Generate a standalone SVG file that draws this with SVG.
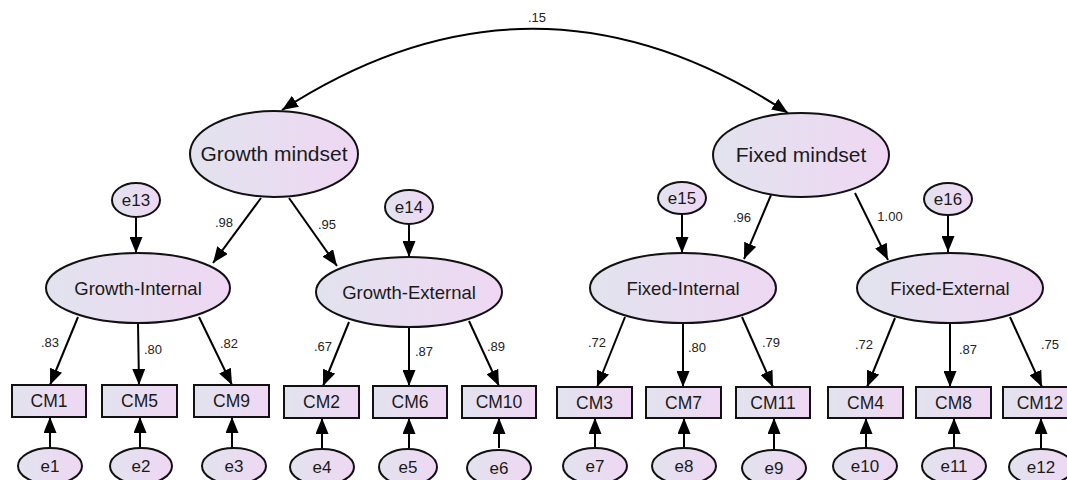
<svg xmlns="http://www.w3.org/2000/svg" width="1067" height="480" viewBox="0 0 1067 480">
<defs>
<linearGradient id="g" x1="0" y1="0" x2="1" y2="0">
<stop offset="0" stop-color="#e2e3ee"/>
<stop offset="1" stop-color="#efd7f3"/>
</linearGradient>
<marker id="ah" viewBox="0 0 16 13" refX="16" refY="6.5" markerWidth="16" markerHeight="13" markerUnits="userSpaceOnUse" orient="auto-start-reverse">
<path d="M0,0 L16,6.5 L0,13 z" fill="#000"/>
</marker>
<style>
.n{fill:url(#g);stroke:#111;stroke-width:2}
.t{font-family:"Liberation Sans",Arial,sans-serif;fill:#1a1a1a;text-anchor:middle}
.big{font-size:21px}
.mid{font-size:18.5px}
.cm{font-size:17.5px}
.e{font-size:17px}
.lb{font-family:"Liberation Sans",Arial,sans-serif;fill:#222;font-size:13px;text-anchor:middle}
.c{stroke:#000;stroke-width:2;fill:none;marker-end:url(#ah)}
</style>
</defs>
<rect width="1067" height="480" fill="#fff"/>

<g id="connectors">
<path class="c" d="M282,110 Q535,-54 788,113" marker-start="url(#ah)"/>
<line class="c" x1="261" y1="198" x2="213" y2="263"/>
<line class="c" x1="289" y1="198" x2="337" y2="266"/>
<line class="c" x1="771" y1="195" x2="744" y2="259"/>
<line class="c" x1="855" y1="193" x2="888" y2="260"/>
<line class="c" x1="136" y1="217" x2="136" y2="253"/>
<line class="c" x1="409" y1="224" x2="409" y2="257"/>
<line class="c" x1="682" y1="214" x2="682" y2="253"/>
<line class="c" x1="948" y1="215" x2="948" y2="252"/>
<line class="c" x1="78" y1="317" x2="50" y2="385"/>
<line class="c" x1="138" y1="323" x2="139" y2="385"/>
<line class="c" x1="199" y1="317" x2="232" y2="385"/>
<line class="c" x1="349" y1="322" x2="323" y2="386"/>
<line class="c" x1="409" y1="327" x2="409" y2="386"/>
<line class="c" x1="469" y1="321" x2="499" y2="386"/>
<line class="c" x1="625" y1="317" x2="597" y2="387"/>
<line class="c" x1="683" y1="323" x2="683" y2="387"/>
<line class="c" x1="742" y1="317" x2="773" y2="387"/>
<line class="c" x1="895" y1="318" x2="867" y2="387"/>
<line class="c" x1="950" y1="323" x2="950" y2="387"/>
<line class="c" x1="1010" y1="317" x2="1042" y2="387"/>
<line class="c" x1="50" y1="448" x2="50" y2="417"/>
<line class="c" x1="140" y1="448" x2="140" y2="417"/>
<line class="c" x1="232" y1="448" x2="232" y2="417"/>
<line class="c" x1="322" y1="448" x2="322" y2="418"/>
<line class="c" x1="409" y1="448" x2="409" y2="418"/>
<line class="c" x1="499" y1="448" x2="499" y2="418"/>
<line class="c" x1="595" y1="448" x2="595" y2="418"/>
<line class="c" x1="684" y1="448" x2="684" y2="418"/>
<line class="c" x1="774" y1="449" x2="774" y2="418"/>
<line class="c" x1="866" y1="448" x2="866" y2="418"/>
<line class="c" x1="954" y1="448" x2="954" y2="418"/>
<line class="c" x1="1041" y1="448" x2="1041" y2="418"/>
<text class="lb" x="537" y="22">.15</text>
<text class="lb" x="224" y="227">.98</text>
<text class="lb" x="327" y="229">.95</text>
<text class="lb" x="742" y="222">.96</text>
<text class="lb" x="890" y="221">1.00</text>
<text class="lb" x="50" y="347">.83</text>
<text class="lb" x="153" y="354">.80</text>
<text class="lb" x="229" y="348">.82</text>
<text class="lb" x="323" y="351">.67</text>
<text class="lb" x="424" y="356">.87</text>
<text class="lb" x="496" y="351">.89</text>
<text class="lb" x="597" y="347">.72</text>
<text class="lb" x="697" y="352">.80</text>
<text class="lb" x="771" y="347">.79</text>
<text class="lb" x="864" y="349">.72</text>
<text class="lb" x="968" y="354">.87</text>
<text class="lb" x="1050" y="349">.75</text>
</g>

<g id="growth-mindset"><ellipse class="n" cx="274" cy="154" rx="84" ry="43"/><text class="t big" x="274" y="161">Growth mindset</text></g>
<g id="fixed-mindset"><ellipse class="n" cx="801" cy="155" rx="88" ry="42"/><text class="t big" x="801" y="162">Fixed mindset</text></g>

<g id="growth-internal"><ellipse class="n" cx="138" cy="288" rx="92" ry="35"/><text class="t mid" x="138" y="294.5">Growth-Internal</text></g>
<g id="growth-external"><ellipse class="n" cx="409" cy="292" rx="93" ry="35"/><text class="t mid" x="409" y="298.5">Growth-External</text></g>
<g id="fixed-internal"><ellipse class="n" cx="683" cy="288" rx="93" ry="35"/><text class="t mid" x="683" y="294.5">Fixed-Internal</text></g>
<g id="fixed-external"><ellipse class="n" cx="950" cy="288" rx="93" ry="35"/><text class="t mid" x="950" y="294.5">Fixed-External</text></g>

<g id="e13"><ellipse class="n" cx="136" cy="200" rx="24" ry="17"/><text class="t e" x="136" y="206">e13</text></g>
<g id="e14"><ellipse class="n" cx="409" cy="207" rx="24" ry="17"/><text class="t e" x="409" y="213">e14</text></g>
<g id="e15"><ellipse class="n" cx="682" cy="198" rx="24" ry="16"/><text class="t e" x="682" y="204">e15</text></g>
<g id="e16"><ellipse class="n" cx="948" cy="199" rx="24" ry="16"/><text class="t e" x="948" y="205">e16</text></g>

<g id="CM1"><rect class="n" x="12" y="385" width="74" height="32"/><text class="t cm" x="49" y="407">CM1</text></g>
<g id="CM5"><rect class="n" x="102" y="385" width="75" height="32"/><text class="t cm" x="139.5" y="407">CM5</text></g>
<g id="CM9"><rect class="n" x="194" y="385" width="75" height="32"/><text class="t cm" x="231.5" y="407">CM9</text></g>
<g id="CM2"><rect class="n" x="284" y="386" width="75" height="32"/><text class="t cm" x="321.5" y="408">CM2</text></g>
<g id="CM6"><rect class="n" x="373" y="386" width="74" height="32"/><text class="t cm" x="410" y="408">CM6</text></g>
<g id="CM10"><rect class="n" x="462" y="386" width="74" height="32"/><text class="t cm" x="499" y="408">CM10</text></g>
<g id="CM3"><rect class="n" x="557" y="387" width="75" height="31"/><text class="t cm" x="594.5" y="408.5">CM3</text></g>
<g id="CM7"><rect class="n" x="646" y="387" width="75" height="31"/><text class="t cm" x="683.5" y="408.5">CM7</text></g>
<g id="CM11"><rect class="n" x="736" y="387" width="74" height="31"/><text class="t cm" x="773" y="408.5">CM11</text></g>
<g id="CM4"><rect class="n" x="828" y="387" width="75" height="31"/><text class="t cm" x="865.5" y="408.5">CM4</text></g>
<g id="CM8"><rect class="n" x="916" y="387" width="75" height="31"/><text class="t cm" x="953.5" y="408.5">CM8</text></g>
<g id="CM12"><rect class="n" x="1003" y="387" width="74" height="31"/><text class="t cm" x="1040" y="408.5">CM12</text></g>

<g id="e1"><ellipse class="n" cx="50" cy="466" rx="32" ry="18"/><text class="t e" x="50" y="472">e1</text></g>
<g id="e2"><ellipse class="n" cx="141" cy="466" rx="31" ry="18"/><text class="t e" x="141" y="472">e2</text></g>
<g id="e3"><ellipse class="n" cx="234" cy="466" rx="32" ry="18"/><text class="t e" x="234" y="472">e3</text></g>
<g id="e4"><ellipse class="n" cx="322" cy="467" rx="32" ry="18"/><text class="t e" x="322" y="473">e4</text></g>
<g id="e5"><ellipse class="n" cx="408" cy="467" rx="29" ry="18"/><text class="t e" x="408" y="473">e5</text></g>
<g id="e6"><ellipse class="n" cx="499" cy="468" rx="32" ry="18"/><text class="t e" x="499" y="474">e6</text></g>
<g id="e7"><ellipse class="n" cx="595" cy="466" rx="32" ry="18"/><text class="t e" x="595" y="472">e7</text></g>
<g id="e8"><ellipse class="n" cx="684" cy="466" rx="32" ry="18"/><text class="t e" x="684" y="472">e8</text></g>
<g id="e9"><ellipse class="n" cx="774" cy="468" rx="32" ry="18"/><text class="t e" x="774" y="474">e9</text></g>
<g id="e10"><ellipse class="n" cx="865" cy="466" rx="32" ry="18"/><text class="t e" x="865" y="472">e10</text></g>
<g id="e11"><ellipse class="n" cx="954" cy="466" rx="32" ry="18"/><text class="t e" x="954" y="472">e11</text></g>
<g id="e12"><ellipse class="n" cx="1041" cy="467" rx="32" ry="18"/><text class="t e" x="1041" y="473">e12</text></g>
</svg>
